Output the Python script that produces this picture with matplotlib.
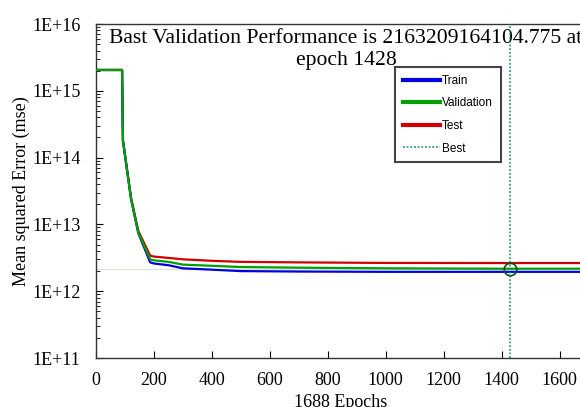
import matplotlib
matplotlib.use("Agg")
from matplotlib import pyplot as plt

# training record
train_epochs = [0, 85, 90, 93, 121, 146, 187, 200, 250, 300, 400, 500, 700, 1000, 1400, 1688]
train_mse = [2.05e15, 2.05e15, 2.05e15, 1.8e14, 2.4e13, 7.4e12, 2.7e12, 2.6e12, 2.45e12, 2.2e12, 2.1e12, 2.0e12, 1.97e12, 1.95e12, 1.95e12, 1.95e12]

val_epochs = [0, 85, 90, 93, 121, 146, 187, 200, 250, 300, 400, 500, 700, 1000, 1400, 1688]
val_mse = [2.05e15, 2.05e15, 2.05e15, 1.8e14, 2.4e13, 7.6e12, 3.0e12, 2.9e12, 2.75e12, 2.5e12, 2.4e12, 2.3e12, 2.25e12, 2.2e12, 2.17e12, 2.17e12]

test_epochs = [0, 85, 90, 93, 121, 146, 187, 200, 250, 300, 400, 500, 700, 1000, 1400, 1688]
test_mse = [2.05e15, 2.05e15, 2.05e15, 1.8e14, 2.5e13, 8.0e12, 3.4e12, 3.3e12, 3.15e12, 3.0e12, 2.85e12, 2.75e12, 2.7e12, 2.65e12, 2.64e12, 2.64e12]

best_epoch = 1428
best_perf = 2163209164104.775
n_epochs = 1688

x_ticks = [0, 200, 400, 600, 800, 1000, 1200, 1400, 1600]
y_ticks = [1e11, 1e12, 1e13, 1e14, 1e15, 1e16]
y_labels = ["1E+11", "1E+12", "1E+13", "1E+14", "1E+15", "1E+16"]

serif = ["Liberation Serif", "DejaVu Serif"]
sans = ["Liberation Sans", "DejaVu Sans"]

fig = plt.figure(figsize=(5.8, 4.07), dpi=100)
W, H = 580, 407
left, right, top, bottom = 96, 585, 24, 358
ax = fig.add_axes([left / W, 1 - bottom / H, (right - left) / W, (bottom - top) / H])

ax.plot([0, best_epoch], [best_perf, best_perf], color="#d8e0d8", lw=0.8, zorder=1)
ax.plot(train_epochs, train_mse, color="#0000e0", lw=1.6, label="Train", zorder=3)
ax.plot(val_epochs, val_mse, color="#00a000", lw=1.6, label="Validation", zorder=3)
ax.plot(test_epochs, test_mse, color="#d00000", lw=1.6, label="Test", zorder=2)
ax.axvline(best_epoch, color="#109060", lw=1.1, ls=(0, (1.2, 1.2)), label="Best", zorder=4)
ax.plot([best_epoch], [best_perf], marker="o", ms=9, mfc="none", mec="#0a5020", mew=1.2, zorder=5)

ax.set_yscale("log")
ax.set_xlim(0, n_epochs)
ax.set_ylim(1e11, 1e16)
ax.set_xticks(x_ticks)
ax.set_xticklabels([str(t) for t in x_ticks], family=serif, fontsize=13)
ax.set_yticks(y_ticks)
ax.set_yticklabels(y_labels, family=serif, fontsize=13)
ax.tick_params(which="both", direction="in", top=False, right=False)
ax.tick_params(axis="y", which="major", length=5, width=0.8, pad=11)
ax.tick_params(axis="x", which="major", length=5, width=0.8, pad=10)
ax.tick_params(which="minor", length=3, width=0.6)
for s in ax.spines.values():
    s.set_color("#333333")
    s.set_linewidth(1.0)

ax.set_xlabel("1688 Epochs", family=serif, fontsize=13, labelpad=4)
ax.set_ylabel("Mean squared Error (mse)", family=serif, fontsize=13, labelpad=2)

ax.text(0.511, 0.985, "Bast Validation Performance is %s at\nepoch %d" % ("2163209164104.775", best_epoch),
        transform=ax.transAxes, ha="center", va="top", family=serif, fontsize=15.6, linespacing=1.2)

leg = ax.legend(loc="upper left", bbox_to_anchor=((395 - left) / (right - left), 1 - (67 - top) / (bottom - top)),
                prop={"family": sans, "size": 8.5}, fancybox=False, framealpha=1,
                edgecolor="#444444", handlelength=3.2, handletextpad=0.15, borderpad=0.65,
                labelspacing=0.9, borderaxespad=0)
leg.get_frame().set_linewidth(1.5)
for h in leg.get_lines()[:3]:
    h.set_linewidth(3)

fig.savefig("out.png", dpi=100)
